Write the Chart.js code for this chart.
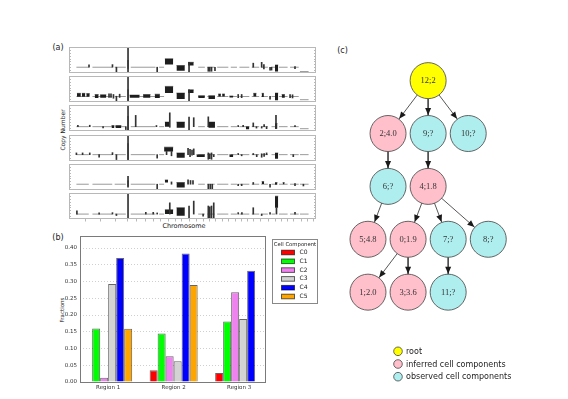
<!DOCTYPE html>
<html>
<head>
<meta charset="utf-8">
<title>Copy number, cell component fractions and lineage tree</title>
<script src="https://cdn.jsdelivr.net/npm/chart.js@4.4.1/dist/chart.umd.min.js"></script>
<style>
  html, body { margin: 0; padding: 0; background: #fff; }
  #page { position: relative; width: 568px; height: 399px; overflow: hidden; font-family: "DejaVu Sans", sans-serif; color: #222; }
  #page canvas { position: absolute; }
  .txt { position: absolute; white-space: nowrap; transform: translate(-50%, -50%); line-height: 1; }
  .rot { transform: translate(-50%, -50%) rotate(-90deg); }
</style>
</head>
<body>
<div id="page">
  <div class="txt" style="left:58px;top:48px;font-size:8px">(a)</div>
  <div class="txt" style="left:58px;top:237.5px;font-size:8px">(b)</div>
  <div class="txt" style="left:342.5px;top:50.5px;font-size:8px">(c)</div>
  <div class="txt rot" style="left:63px;top:130px;font-size:6px">Copy Number</div>
  <div class="txt" style="left:184px;top:225.5px;font-size:6.5px">Chromosome</div>
  <div class="txt rot" style="left:62.5px;top:310px;font-size:5.5px">Fractions</div>
  <canvas id="bars" width="285" height="165" style="left:40px;top:230px"></canvas>
  <canvas id="tree" width="238" height="359" style="left:330px;top:40px"></canvas>
</div>
<script>
// ---- panel (b): fractions of cell components per region
const regions = ['Region 1', 'Region 2', 'Region 3'];
const components = ['C0', 'C1', 'C2', 'C3', 'C4', 'C5'];
const compColors = ['#ff0000', '#00ff00', '#ee82ee', '#d3d3d3', '#0000ff', '#ffa500'];
const c0 = [0, 0.035, 0.027];
const c1 = [0.160, 0.145, 0.181];
const c2 = [0.013, 0.077, 0.268];
const c3 = [0.2925, 0.062, 0.188];
const c4 = [0.370, 0.3835, 0.332];
const c5 = [0.159, 0.2896, 0];
const fractionTicks = [0, 0.05, 0.10, 0.15, 0.20, 0.25, 0.30, 0.35, 0.40];

// ---- panel (a): copy number tracks, genome position 0..100, copy number 0..9
const chromDashes = [[3, 8], [9.5, 17.5], [18.5, 23], [25, 35], [36.5, 38.5], [52.3, 55], [56, 59], [60, 64.5],
  [65.5, 68], [69, 73], [74, 77], [77.8, 80.5], [82, 83.5], [85, 88.5], [89.5, 93]];
const chromTicks = [6.4, 12.4, 18.5, 23.5, 27.3, 30.7, 34, 36.8, 40.1, 42.8, 45.5, 48.6, 51.4, 54.1, 56.8, 59,
  61.8, 64.5, 67.1, 69.5, 71.9, 74.6, 77.3, 80.7, 83.4, 85.7, 88.1, 90.8, 93.8, 96.2, 98.9];
const trackLevels = [2.0, 1.9, 1.5, 2.2, 2.0, 1.7];
const tailLevels = [0.5, 0.8, 0.8, 2.2, 2.0, 1.7];

// spikes: [position, low, high]   blocks: [start, end, low, high]
const track1Spikes = [[8.1, 2, 2.8], [17.6, 2, 2.9], [19.2, 0.2, 2], [23.9, 0, 9], [35.7, 0.2, 2], [48.6, 0.2, 3.7],
  [56.4, 0.6, 2], [57.0, 0.6, 2], [57.7, 0.6, 2], [59.1, 0.8, 2], [74.6, 2, 3.4], [78.0, 2, 3.7], [78.9, 1.4, 2.9],
  [81.4, 1.0, 2], [82.0, 1.0, 2], [91.5, 1.5, 2.2]];
const track1Blocks = [[23.6, 24.2, 1.5, 4.3], [38.8, 42.2, 2.9, 4.9], [43.5, 46.9, 0.8, 2.6], [48.2, 50.5, 2.6, 3.7],
  [83.4, 84.7, 0.5, 2.8]];

const track2Spikes = [[16.2, 1.6, 2.8], [17.0, 1.6, 2.8], [18.0, 1.3, 2.6], [19.2, 0.4, 2], [20.5, 1.6, 2.7],
  [23.9, 0, 9], [48.6, 0.3, 4.2], [68.5, 1.5, 2.6], [69.9, 1.5, 2.6], [81.4, 1.0, 2], [89.5, 1.5, 2.6], [90.5, 1.4, 2.5]];
const track2Blocks = [[3.2, 4.8, 1.8, 3.0], [5.2, 6.6, 1.8, 3.0], [7.0, 8.4, 1.8, 2.9], [10.4, 12.0, 1.4, 2.6],
  [12.6, 15.1, 1.5, 2.5], [23.6, 24.2, 0.5, 4.2], [24.5, 28.6, 1.5, 2.4], [30.0, 33.0, 1.5, 2.6], [34.7, 36.8, 1.4, 2.7],
  [38.8, 42.2, 3.1, 5.4], [43.5, 46.9, 1.0, 3.1], [48.2, 50.5, 3.1, 4.2], [52.3, 55.0, 1.4, 2.2], [56.4, 59.1, 1.0, 2.2],
  [60.4, 61.5, 1.9, 2.8], [62.0, 63.1, 1.9, 2.8], [64.9, 66.5, 1.6, 2.1], [74.6, 75.9, 1.9, 3.0], [78.0, 78.9, 1.7, 3.0],
  [83.4, 84.7, 0.6, 3.1], [86.1, 87.4, 1.5, 2.6]];

const track3Spikes = [[3.6, 1.5, 2.0], [8.4, 1.5, 2.0], [13.8, 1.1, 1.5], [23.0, 0.5, 1.5], [23.9, 0, 9], [27.0, 1.5, 5.4],
  [35.4, 1.5, 1.9], [40.8, 1.3, 6.3], [48.6, 0, 4.8], [50.5, 1.5, 4.6], [56.4, 1.5, 4.9], [68.5, 1.5, 1.9], [70.5, 1.5, 2.0],
  [74.6, 1.5, 2.8], [75.9, 1.0, 1.5], [78.0, 1.0, 1.5], [79.0, 1.5, 2.2], [80.0, 0.8, 1.5], [83.8, 0.8, 5.4], [91.5, 1.5, 1.9]];
const track3Blocks = [[17.2, 18.4, 1.0, 1.9], [18.8, 21.2, 1.0, 1.9], [23.6, 24.2, 0, 5.0], [38.8, 40.8, 1.5, 3.1],
  [43.5, 46.9, 1.1, 3.1], [56.4, 59.1, 1.1, 3.1], [71.6, 73.0, 0.6, 1.5], [83.4, 84.4, 0.8, 2.6]];

const track4Spikes = [[3.0, 2.2, 2.8], [5.5, 2.2, 2.8], [8.4, 2.2, 2.8], [12.2, 1.3, 2.2], [17.6, 2.2, 2.9], [19.2, 0.5, 2.2],
  [23.9, 0, 9], [35.7, 1.0, 2.2], [39.5, 2.2, 3.3], [41.5, 1.8, 3.3], [48.2, 2.2, 4.4], [49.0, 1.5, 4.0], [49.8, 2.0, 3.8],
  [50.5, 2.2, 4.2], [56.4, 0.6, 2.8], [57.0, 0.8, 2.5], [57.7, 0.6, 2.8], [58.6, 1.5, 2.2], [68.5, 2.2, 2.6], [69.9, 1.8, 2.2],
  [74.6, 2.2, 2.6], [76.0, 1.5, 2.2], [78.0, 1.3, 2.5], [79.0, 1.6, 2.6], [80.0, 2.2, 2.8], [90.8, 1.5, 2.2]];
const track4Blocks = [[23.6, 24.2, 0.5, 6.0], [38.5, 42.2, 3.3, 4.8], [43.5, 46.9, 1.1, 2.8], [51.6, 55.0, 1.4, 2.2],
  [64.9, 66.5, 1.4, 2.2], [83.4, 84.7, 0.8, 2.8]];

const track5Spikes = [[23.9, 1.0, 4.7], [35.7, 0, 2], [41.5, 2.0, 2.8], [48.2, 2.0, 3.5], [49.2, 2.0, 3.3], [50.2, 2.0, 3.3],
  [56.4, 0, 2], [57.2, 0.3, 2], [58.0, 0.4, 2], [68.5, 1.5, 2.0], [69.9, 1.5, 2.0], [74.6, 2.0, 2.6], [81.4, 1.0, 2],
  [91.5, 1.5, 2.2], [94.9, 1.4, 2.0]];
const track5Blocks = [[23.6, 24.2, 1.2, 3.2], [38.8, 40.1, 2.6, 3.5], [43.5, 46.9, 0.9, 2.6], [78.0, 79.0, 2.1, 2.9],
  [83.4, 84.4, 1.8, 2.6], [86.5, 87.3, 2.0, 2.6]];

const track6Spikes = [[3.2, 1.7, 2.8], [12.2, 1.7, 2.1], [17.6, 1.7, 2.2], [19.2, 1.2, 1.7], [23.9, 0, 9], [31.1, 1.7, 2.3],
  [34.1, 1.7, 2.3], [35.7, 1.7, 2.1], [40.8, 1.7, 5.6], [48.6, 0, 4.5], [50.5, 1.7, 6.2], [54.3, 1.0, 1.7], [56.4, 0, 4.5],
  [57.0, 0, 4.2], [57.7, 0, 4.5], [58.6, 0, 5.6], [68.5, 1.7, 2.2], [70.0, 1.7, 2.2], [74.6, 1.7, 3.9], [78.0, 1.2, 1.7],
  [81.4, 1.7, 2.2], [84.0, 1.7, 3.9], [91.5, 1.7, 2.3]];
const track6Blocks = [[38.8, 42.2, 1.7, 3.2], [43.5, 46.9, 1.1, 3.9], [83.4, 84.7, 3.9, 7.9]];

// ---- panel (c): lineage tree
const treeLabels = ['12;2', '2;4.0', '9;?', '10;?', '6;?', '4;1.8', '5;4.8', '0;1.9', '7;?', '8;?', '1;2.0', '3;3.6', '11;?'];
const treeCol = [1.5, 0.5, 1.5, 2.5, 0.5, 1.5, 0, 1, 2, 3, 0, 1, 2];
const treeLevel = [0, 1, 1, 1, 2, 2, 3, 3, 3, 3, 4, 4, 4];
const treeKind = [0, 1, 2, 2, 2, 1, 1, 1, 2, 2, 1, 1, 2];
const treeParent = [-1, 0, 0, 0, 1, 2, 4, 5, 5, 5, 7, 7, 8];
const kindNames = ['root', 'inferred cell components', 'observed cell components'];
const kindColors = ['#ffff00', '#ffc0cb', '#afeeee'];

const nodeRadius = 18;

// ---------------------------------------------------------------- (a)
const trackDeco = {
  id: 'trackDeco',
  afterDraw(chart, args, opts) {
    const { ctx, chartArea: a, scales: { x, y } } = chart;
    ctx.save();
    ctx.strokeStyle = '#b8b8b8';
    ctx.lineWidth = 1;
    ctx.strokeRect(a.left + 0.5, a.top + 0.5, a.width - 1, a.height - 1);
    ctx.beginPath();
    for (let v = 1; v < 9; v++) {
      const py = Math.round(y.getPixelForValue(v)) + 0.5;
      ctx.moveTo(a.left, py); ctx.lineTo(a.left + 2, py);
      ctx.moveTo(a.right, py); ctx.lineTo(a.right - 2, py);
    }
    if (opts.bottom) {
      chromTicks.forEach(g => {
        const px = Math.round(x.getPixelForValue(g)) + 0.5;
        ctx.moveTo(px, a.bottom); ctx.lineTo(px, a.bottom + 2.5);
      });
    }
    ctx.stroke();
    ctx.restore();
  }
};

const trackTops = [47, 76, 105, 135, 164, 193];
const allSpikes = [track1Spikes, track2Spikes, track3Spikes, track4Spikes, track5Spikes, track6Spikes];
const allBlocks = [track1Blocks, track2Blocks, track3Blocks, track4Blocks, track5Blocks, track6Blocks];

allSpikes.forEach((spikes, i) => {
  const cv = document.createElement('canvas');
  cv.width = 248; cv.height = 30;
  cv.style.left = '69px'; cv.style.top = trackTops[i] + 'px';
  document.getElementById('page').appendChild(cv);

  const lvl = trackLevels[i];
  const base = [];
  chromDashes.forEach(d => { base.push({ x: d[0], y: lvl }, { x: d[1], y: lvl }, { x: d[1], y: null }); });
  base.push({ x: 93.5, y: tailLevels[i] }, { x: 97, y: tailLevels[i] });

  const datasets = [{
    type: 'line', data: base, borderColor: '#9a9a9a', borderWidth: 1,
    pointRadius: 0, spanGaps: false, order: 3
  }];
  allBlocks[i].forEach(b => datasets.push({
    type: 'line', data: [{ x: b[0], y: b[3] }, { x: b[1], y: b[3] }],
    fill: { value: b[2] }, backgroundColor: '#1e1e1e', borderColor: '#1e1e1e', borderWidth: 0.5,
    pointRadius: 0, order: 2
  }));
  datasets.push({
    type: 'bar', data: spikes.map(s => ({ x: s[0], y: [s[1], s[2]] })),
    backgroundColor: '#333', barThickness: 1, grouped: false, order: 1
  });

  new Chart(cv, {
    type: 'bar',
    data: { datasets },
    options: {
      responsive: false, animation: false, events: [],
      layout: { padding: { top: 0, left: 0, right: 1, bottom: 4 } },
      plugins: { legend: { display: false }, tooltip: { enabled: false }, trackDeco: { bottom: i === 5 } },
      scales: {
        x: { type: 'linear', min: 0, max: 100, offset: false, display: false },
        y: { type: 'linear', min: 0, max: 9, display: false }
      }
    },
    plugins: [trackDeco]
  });
});

// ---------------------------------------------------------------- (b)
const barFrame = {
  id: 'barFrame',
  afterDraw(chart) {
    const { ctx, chartArea: a } = chart;
    ctx.save();
    ctx.strokeStyle = '#7a7a7a';
    ctx.lineWidth = 1;
    ctx.strokeRect(Math.round(a.left) + 0.5, Math.round(a.top) + 0.5, Math.round(a.width) - 1, Math.round(a.height));

    // legend box to the right of the plot
    const bx = a.right + 6.5, by = 9.5, bw = 45, bh = 64;
    ctx.strokeStyle = '#888';
    ctx.strokeRect(bx, by, bw, bh);
    ctx.fillStyle = '#222';
    ctx.textBaseline = 'middle';
    ctx.textAlign = 'center';
    ctx.font = '5.3px "DejaVu Sans", sans-serif';
    ctx.fillText('Cell Component', bx + bw / 2, by + 5);
    ctx.textAlign = 'left';
    ctx.font = '6px "DejaVu Sans", sans-serif';
    chart.data.datasets.forEach((ds, k) => {
      const yy = by + 13 + k * 8.8;
      ctx.fillStyle = ds.backgroundColor;
      ctx.fillRect(bx + 9, yy - 2.3, 13, 4.6);
      ctx.strokeStyle = 'rgba(0,0,0,0.6)';
      ctx.strokeRect(bx + 9, yy - 2.3, 13, 4.6);
      ctx.fillStyle = '#222';
      ctx.fillText(ds.label, bx + 27, yy);
    });
    ctx.restore();
  }
};

const series = [c0, c1, c2, c3, c4, c5];
new Chart(document.getElementById('bars'), {
  type: 'bar',
  data: {
    datasets: series.map((vals, k) => ({
      label: components[k],
      data: vals.map((v, i) => ({ x: i, y: v })),
      backgroundColor: compColors[k],
      borderColor: 'rgba(0,0,0,0.6)',
      borderWidth: 1,
      categoryPercentage: 0.733,
      barPercentage: 1
    }))
  },
  options: {
    responsive: false, animation: false, events: [],
    layout: { padding: { top: 6, right: 59, left: 0, bottom: 0 } },
    plugins: { legend: { display: false }, tooltip: { enabled: false } },
    scales: {
      x: {
        type: 'linear', min: -0.43, max: 2.41, offset: false,
        afterBuildTicks: s => { s.ticks = regions.map((r, i) => ({ value: i })); },
        afterFit: s => { s.height = 13; },
        ticks: {
          callback: v => regions[v], autoSkip: false, maxRotation: 0, padding: 2,
          color: '#333', font: { family: 'DejaVu Sans', size: 5.5 }
        },
        grid: { display: false, drawTicks: false, tickLength: 0 },
        border: { display: false }
      },
      y: {
        type: 'linear', min: 0, max: 0.435,
        afterBuildTicks: s => { s.ticks = fractionTicks.map(v => ({ value: v })); },
        afterFit: s => { s.width = 40; },
        ticks: {
          callback: v => v.toFixed(2), padding: 3,
          color: '#333', font: { family: 'DejaVu Sans', size: 5.5 }
        },
        grid: { color: '#c4c4c4', lineWidth: 0.8, drawTicks: false, tickLength: 0 },
        border: { display: false, dash: [1, 2] }
      }
    }
  },
  plugins: [barFrame]
});

// ---------------------------------------------------------------- (c)
const treeDeco = {
  id: 'treeDeco',
  afterDatasetsDraw(chart) {
    const { ctx, scales: { x, y } } = chart;
    ctx.save();
    ctx.fillStyle = '#1a1a1a';
    treeParent.forEach((p, i) => {
      if (p < 0) return;
      const x0 = x.getPixelForValue(treeCol[p]), y0 = y.getPixelForValue(treeLevel[p]);
      const x1 = x.getPixelForValue(treeCol[i]), y1 = y.getPixelForValue(treeLevel[i]);
      const len = Math.hypot(x1 - x0, y1 - y0), ux = (x1 - x0) / len, uy = (y1 - y0) / len;
      const tx = x1 - ux * (nodeRadius + 0.5), ty = y1 - uy * (nodeRadius + 0.5);
      const bx = tx - ux * 7, by = ty - uy * 7;
      ctx.beginPath();
      ctx.moveTo(tx, ty);
      ctx.lineTo(bx - uy * 3, by + ux * 3);
      ctx.lineTo(bx + uy * 3, by - ux * 3);
      ctx.closePath();
      ctx.fill();
    });

    const meta = chart.getDatasetMeta(0);
    ctx.font = '8.5px "Liberation Serif", serif';
    ctx.fillStyle = '#333';
    ctx.textAlign = 'center';
    ctx.textBaseline = 'middle';
    meta.data.forEach((pt, i) => ctx.fillText(treeLabels[i], pt.x, pt.y + 0.5));

    // legend
    ctx.font = '8px "DejaVu Sans", sans-serif';
    ctx.textAlign = 'left';
    kindNames.forEach((name, k) => {
      const cy = 311.3 + k * 12.7;
      ctx.beginPath();
      ctx.arc(68, cy, 4.3, 0, Math.PI * 2);
      ctx.fillStyle = kindColors[k];
      ctx.fill();
      ctx.strokeStyle = '#444';
      ctx.lineWidth = 0.8;
      ctx.stroke();
      ctx.fillStyle = '#222';
      ctx.fillText(name, 76, cy + 0.5);
    });
    ctx.restore();
  }
};

const treeSets = [{
  data: treeCol.map((c, i) => ({ x: c, y: treeLevel[i] })),
  pointRadius: nodeRadius,
  backgroundColor: treeKind.map(k => kindColors[k]),
  borderColor: '#555',
  borderWidth: 0.9,
  order: 1
}];
treeParent.forEach((p, i) => {
  if (p < 0) return;
  treeSets.push({
    data: [{ x: treeCol[p], y: treeLevel[p] }, { x: treeCol[i], y: treeLevel[i] }],
    showLine: true, borderColor: '#444', borderWidth: 0.9, pointRadius: 0, order: 2
  });
});

new Chart(document.getElementById('tree'), {
  type: 'scatter',
  data: { datasets: treeSets },
  options: {
    responsive: false, animation: false, events: [],
    layout: { padding: 0 },
    plugins: { legend: { display: false }, tooltip: { enabled: false } },
    scales: {
      x: { type: 'linear', min: -0.476, max: 4.517, display: false },
      y: { type: 'linear', min: -0.411, max: 5.663, reverse: true, display: false }
    }
  },
  plugins: [treeDeco]
});
</script>
</body>
</html>
